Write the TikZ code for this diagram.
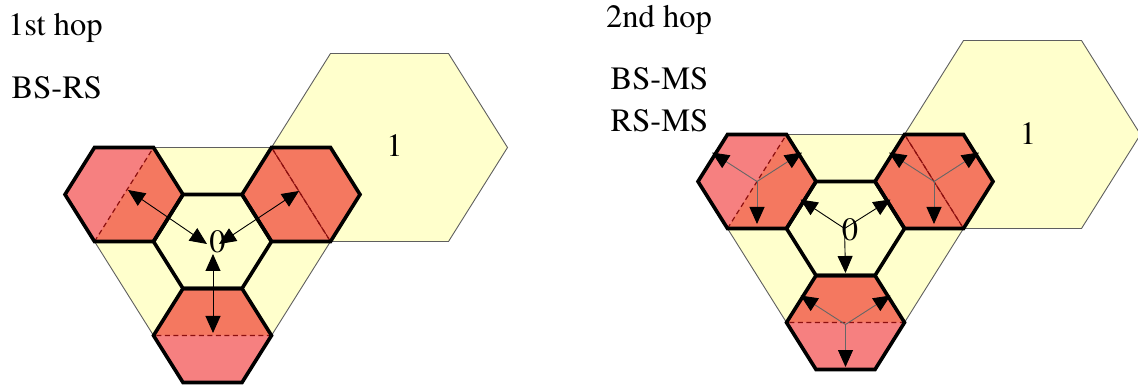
\documentclass[tikz,border=0pt]{standalone}
\usepackage{fontspec}
\IfFontExistsTF{texgyretermes-regular.otf}{\setmainfont{texgyretermes-regular.otf}}{\setmainfont{Liberation Serif}}
\usetikzlibrary{arrows.meta}
\definecolor{cellyellow}{HTML}{FFFFCC}
\definecolor{relaypink}{RGB}{246,128,128}
\definecolor{relaysalmon}{RGB}{244,120,96}
\definecolor{dashred}{RGB}{140,15,15}
\definecolor{celledge}{RGB}{95,95,95}
\newcommand\BigHex{(118,0) -- (59,94) -- (-59,94) -- (-118,0) -- (-59,-94) -- (59,-94) -- cycle}
\newcommand\SmHex{(59,0) -- (29.5,47) -- (-29.5,47) -- (-59,0) -- (-29.5,-47) -- (29.5,-47) -- cycle}
\newcommand\drawcluster{%
  \path[fill=cellyellow, draw=celledge, line width=0.9pt, shift={(177,-94)}] \BigHex;
  \path[fill=cellyellow, draw=celledge, line width=0.9pt] \BigHex;
  \foreach \px/\py in {-88.5/-47, 88.5/-47, 0/94} {
    \fill[relaypink, shift={(\px,\py)}] \SmHex;
    \begin{scope}
      \clip[shift={(\px,\py)}] \SmHex;
      \fill[relaysalmon] \BigHex;
      \fill[relaysalmon, shift={(177,-94)}] \BigHex;
      \draw[celldash] \BigHex;
      \draw[celldash, shift={(177,-94)}] \BigHex;
    \end{scope}
  }
  \foreach \px/\py in {0/0, -88.5/-47, 88.5/-47, 0/94} {
    \draw[cellborder, shift={(\px,\py)}] \SmHex;
  }
}
\tikzset{
  celldash/.style={draw=dashred, line width=1.2pt, dash pattern=on 5pt off 3.5pt},
  cellborder/.style={draw=black, line width=3.6pt},
  hoparrow/.style={line width=0.9pt, -{Triangle[length=17pt,width=15pt,color=black]}},
  duplexarrow/.style={line width=0.9pt, {Triangle[length=17pt,width=15pt,color=black]}-{Triangle[length=17pt,width=15pt,color=black]}},
  msarrow/.style={line width=0.9pt, draw=black!60, -{Triangle[length=17pt,width=15pt,color=black]}},
  lbl/.style={inner sep=0pt, font=\fontsize{32.5}{39}\selectfont},
}
\begin{document}
\begin{tikzpicture}[x=1pt,y=-1pt]
\useasboundingbox (0,0) rectangle (1138,387);
% ---------------- left: 1st hop ----------------
\begin{scope}[shift={(212.5,241.5)}]
  \drawcluster
  \node[lbl] (L0) at (5,0) {0};
  \node[lbl] (L1) at (182,-95.5) {1};
  \coordinate (Lcul) at (-5.5,2.5);
  \coordinate (Lcur) at (6.5,2.5);
  \coordinate (Lcd) at (0.5,12.5);
  \coordinate (Lul) at (-84.5,-51.5);
  \coordinate (Lur) at (86.5,-50.5);
  \coordinate (Ld) at (0.5,91.5);
  \draw[duplexarrow] (Lcul) -- (Lul);
  \draw[duplexarrow] (Lcur) -- (Lur);
  \draw[duplexarrow] (Lcd) -- (Ld);
\end{scope}
% ---------------- right: 2nd hop ----------------
\begin{scope}[shift={(845.5,228.5)}]
  \drawcluster
  \node[lbl] (R0) at (4.5,1.5) {0};
  \node[lbl] (R1) at (182.5,-95) {1};
  % base station star
  \coordinate (Rc) at (-1,0);
  \coordinate (Rcul) at (-45,-29);
  \coordinate (Rcur) at (45,-29);
  \coordinate (Rcd) at (0,44.5);
  \draw[hoparrow] (Rc) -- (Rcul);
  \draw[hoparrow] (Rc) -- (Rcur);
  \draw[hoparrow] (Rc) -- (Rcd);
  % relay stars
  \foreach \nm/\px/\py in {A/-88.5/-47, B/88.5/-47, C/0/96} {
    \coordinate (S\nm) at (\px,\py);
    \coordinate (S\nm ul) at ([shift={(-45,-29)}]S\nm);
    \coordinate (S\nm ur) at ([shift={(45,-29)}]S\nm);
    \coordinate (S\nm d) at ([shift={(0,42.5)}]S\nm);
    \draw[msarrow] (S\nm) -- (S\nm ul);
    \draw[msarrow] (S\nm) -- (S\nm ur);
    \draw[msarrow] (S\nm) -- (S\nm d);
  }
\end{scope}
% ---------------- captions ----------------
\node[lbl, anchor=base west] (t1) at (8,36) {1st hop};
\node[lbl, anchor=base west] (t2) at (11.5,99) {BS-RS};
\node[lbl, anchor=base west] (t3) at (606,27.5) {2nd hop};
\node[lbl, anchor=base west] (t4) at (610.5,90) {BS-MS};
\node[lbl, anchor=base west] (t5) at (610.5,132) {RS-MS};
\end{tikzpicture}
\end{document}
